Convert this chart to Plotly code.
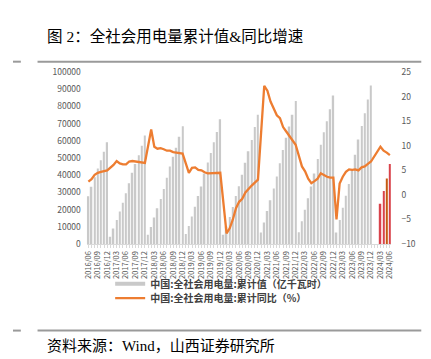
import plotly.graph_objects as go

# ---------------- data ----------------
all_months = [f"{y}/{m:02d}" for y in range(2016, 2025) for m in range(1, 13)]
months = all_months[all_months.index("2016/06"):all_months.index("2024/06") + 1]

# 中国:全社会用电量:累计值（亿千瓦时）
cum_2016 = [27759, 33300, 38900, 43900, 48700, 53700, 59198]
cum_2017 = [4300, 9000, 14000, 18900, 24000, 29500, 35400, 41400, 46600, 51700, 57100, 63077]
cum_2018 = [5400, 9900, 15500, 20800, 26200, 32000, 38600, 45100, 50700, 56000, 62400, 68449]
cum_2019 = [5800, 10500, 16100, 21700, 27900, 33500, 41000, 47400, 53000, 59200, 65200, 72500]
cum_2020 = [5400, 10186, 15698, 21529, 27902, 33547, 40308, 47232, 54000, 60500, 68000, 75110]
cum_2021 = [6700, 12588, 19219, 25516, 32342, 39339, 47042, 54704, 61733, 68271, 75105, 83128]
cum_2022 = [6900, 13289, 20003, 26636, 33525, 40977, 49425, 57720, 64931, 71403, 78400, 86372]
cum_2023 = [6700, 14038, 21100, 28100, 34901, 43076, 51965, 60826, 68637, 76059, 84000, 92241]
cum_2024 = [None, None, 23373, 30900, 38100, 46575]
cum_values = cum_2016 + cum_2017 + cum_2018 + cum_2019 + cum_2020 + cum_2021 + cum_2022 + cum_2023 + cum_2024

# 中国:全社会用电量:累计同比（%）
yoy_2016 = [2.7, 3.2, 4.1, 4.5, 4.7, 4.9, 5.0]
yoy_2017 = [None, 6.1, 6.9, 6.4, 6.2, 6.2, 6.8, 6.9, 6.8, 6.7, 6.5, 6.5]
yoy_2018 = [None, 13.3, 9.8, 9.4, 9.5, 9.3, 9.0, 9.0, 8.7, 8.6, 8.5, 8.4]
yoy_2019 = [None, 4.5, 5.5, 5.6, 5.1, 5.0, 4.6, 4.4, 4.4, 4.4, 4.5, 4.5]
yoy_2020 = [None, -7.8, -6.8, -5.0, -2.7, -1.4, -0.8, 0.5, 1.3, 1.9, 2.5, 3.1]
yoy_2021 = [None, 22.2, 21.2, 19.0, 17.5, 16.2, 15.6, 13.8, 12.9, 12.0, 11.2, 10.2]
yoy_2022 = [None, 5.8, 4.8, 3.3, 2.4, 2.8, 3.3, 4.4, 4.0, 3.7, 3.5, 3.5]
yoy_2023 = [-5.0, 2.3, 3.7, 4.7, 5.2, 5.1, 5.2, 5.0, 5.6, 5.8, 6.3, 6.8]
yoy_2024 = [None, None, 9.8, 9.0, 8.6, 8.1]
yoy_values = yoy_2016 + yoy_2017 + yoy_2018 + yoy_2019 + yoy_2020 + yoy_2021 + yoy_2022 + yoy_2023 + yoy_2024

tick_labels = months[::3]

name_cum = "中国:全社会用电量:累计值（亿千瓦时）"
name_yoy = "中国:全社会用电量:累计同比（%）"

# ---------------- style ----------------
W, H = 431, 359
GRAY_BAR = "#C9C9C9"
ORANGE = "#ED7D31"
highlight = {"2024/03": "#D9434B", "2024/04": "#D9434B", "2024/05": "#C55A11", "2024/06": "#D9434B"}
bar_colors = [highlight.get(m, GRAY_BAR) for m in months]
TICK_COLOR = "#595959"
CJK = "Noto Sans CJK SC"
SERIF = "Liberation Serif, Noto Sans CJK SC"

def px_x(x):
    return x / W

def px_y(y):
    return 1 - y / H

fig = go.Figure()

fig.add_trace(go.Bar(
    x=months, y=cum_values, marker=dict(color=bar_colors, line=dict(width=0)),
    name=name_cum, showlegend=False, yaxis="y",
))
# legend proxy for the bar series (drawn as a thick gray line, like the reference)
fig.add_trace(go.Scatter(
    x=[None], y=[None], mode="lines", line=dict(color=GRAY_BAR, width=4),
    name=name_cum, legend="legend", yaxis="y",
))
fig.add_trace(go.Scatter(
    x=months, y=yoy_values, mode="lines", connectgaps=True,
    line=dict(color=ORANGE, width=2.3), name=name_yoy, legend="legend2", yaxis="y2",
))

plot_left, plot_right = 75.2, 385.6
plot_top, plot_bottom = 59, 237

legend_font = dict(family=CJK, size=10, color="#404040", weight="bold")

fig.update_layout(
    width=W, height=H,
    margin=dict(l=0, r=0, t=0, b=0),
    paper_bgcolor="white", plot_bgcolor="white",
    bargap=0.5,
    xaxis=dict(
        type="category", domain=[px_x(plot_left), px_x(plot_right)],
        tickmode="array", tickvals=months,
        ticktext=[m if m in tick_labels else "" for m in months],
        tickangle=-90, tickfont=dict(family=CJK, size=7.5, color=TICK_COLOR),
        ticks="outside", ticklen=3, tickcolor="#D9D9D9", tickwidth=1,
        showline=True, linecolor="#D9D9D9", linewidth=1,
        showgrid=False, zeroline=False,
        range=[-0.5, len(months) - 0.5],
    ),
    yaxis=dict(
        domain=[px_y(plot_bottom), px_y(plot_top)],
        range=[0, 100000], dtick=10000, tickformat="d",
        tickfont=dict(family=CJK, size=8.5, color=TICK_COLOR),
        showgrid=False, zeroline=False, showline=False, ticks="",
        ticklabelstandoff=5,
    ),
    yaxis2=dict(
        overlaying="y", side="right", anchor="x",
        range=[-10, 25], dtick=5,
        tickfont=dict(family=CJK, size=8.5, color=TICK_COLOR),
        showgrid=False, zeroline=False, showline=False, ticks="",
        ticklabelstandoff=9,
    ),
    legend=dict(
        x=px_x(99), y=px_y(263), xanchor="left", yanchor="top",
        font=legend_font, bgcolor="rgba(0,0,0,0)", borderwidth=0, itemwidth=30,
    ),
    legend2=dict(
        x=px_x(99), y=px_y(278), xanchor="left", yanchor="top",
        font=legend_font, bgcolor="rgba(0,0,0,0)", borderwidth=0, itemwidth=30,
    ),
    showlegend=True,
)

# title and source
fig.add_annotation(
    text="图 2：全社会用电量累计值&同比增速", x=px_x(33), y=px_y(22),
    xref="paper", yref="paper", xanchor="left", yanchor="middle", showarrow=False,
    font=dict(family=SERIF, size=15.5, color="#000000"),
)
fig.add_annotation(
    text="资料来源：Wind，山西证券研究所", x=px_x(33), y=px_y(342),
    xref="paper", yref="paper", xanchor="left", yanchor="middle", showarrow=False,
    font=dict(family=SERIF, size=15, color="#000000"),
)

# horizontal rules
for yy in (48.3, 326.5):
    fig.add_shape(type="line", xref="paper", yref="paper",
                  x0=px_x(25), x1=px_x(416), y0=px_y(yy), y1=px_y(yy),
                  line=dict(color="#9A9A9A", width=2))
    fig.add_shape(type="line", xref="paper", yref="paper",
                  x0=0, x1=px_x(8), y0=px_y(yy), y1=px_y(yy),
                  line=dict(color="#9A9A9A", width=2))

fig.write_html("out.html")
